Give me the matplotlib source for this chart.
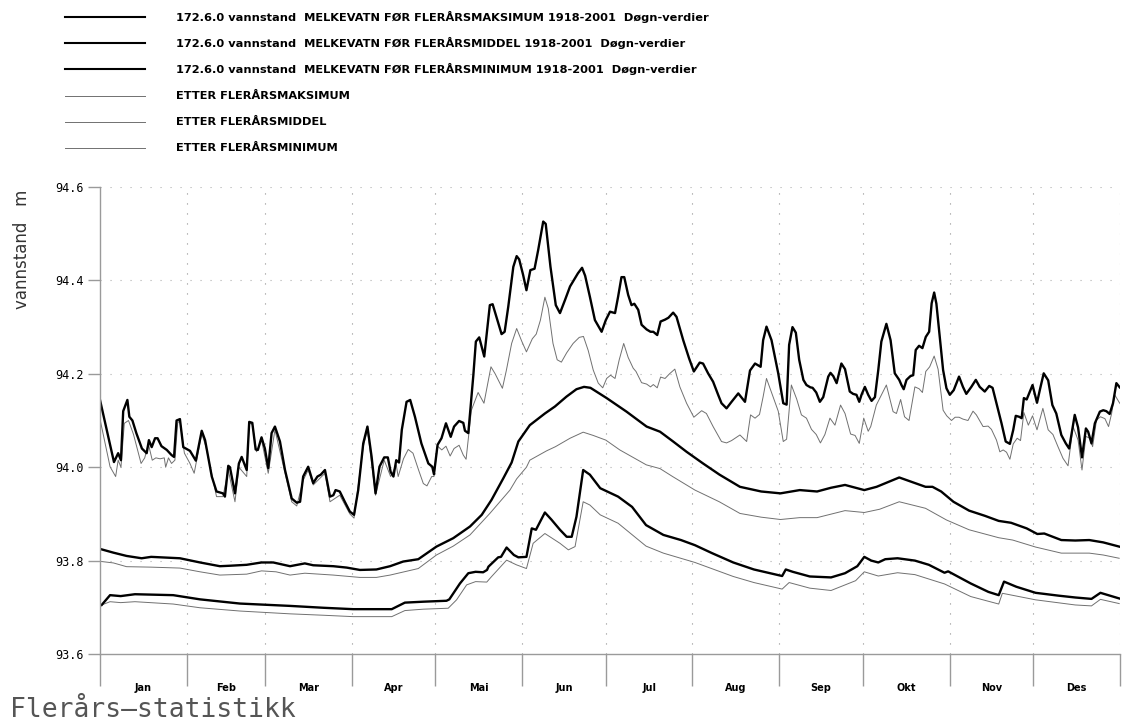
import numpy as np
import matplotlib
matplotlib.use("Agg")
import matplotlib.pyplot as plt
from matplotlib.lines import Line2D
from matplotlib import font_manager

# ---- data (day of year, water level in m) ----
maks_for_dag = [1, 6, 7.5, 8.5, 9.3, 10.8, 11.5, 12.6, 14, 16, 17.7, 18.5, 19.5, 20.7, 21.6, 23, 24.9, 26.6, 27.5,
                28.4, 29.6, 30.8, 33.2, 35.3, 37.4, 38.6, 41, 42.7, 45, 45.7, 46.9, 47.5, 49.3, 50.7, 51.7, 53.5,
                54.4, 55.5, 56.7, 57.5, 58.8, 60, 61.2, 62.4, 63.6, 65.4, 67.2, 69.6, 71.4, 72.6, 73.7, 75.5, 77.3,
                78.8, 80, 81.5, 83.3, 84.5, 85.3, 86.8, 88.6, 90.4, 91.9, 93.4, 95.2, 96.7, 98.2, 99.6, 101, 102.7,
                104, 105, 106, 107, 108, 109, 110.7, 112, 113.7, 116, 118.5, 119.9, 120.5, 121.8, 123.2, 124.8,
                126.5, 127.7, 129.5, 131, 131.6, 132.8, 134.6, 135.5, 136.7, 138.5, 140.5, 141.5, 144.7, 145.8,
                147.1, 148.9, 150.1, 151, 152.4, 153.6, 155, 156.5, 157.8, 159.6, 160.5, 162.2, 164.1, 165.6,
                167.4, 169.2, 170.9, 172, 173.5, 174.6, 176.3, 178.1, 180.5, 182, 183.5, 185.3, 186.4, 187.6,
                188.6, 190, 191.2, 192.2, 193.6, 194.8, 196.6, 198, 199, 200.4, 201.6, 203.2, 204.4, 206.1, 207.3,
                209.7, 211.8, 213.5, 215.6, 216.8, 218.6, 220.4, 222.2, 223.4, 225.2, 227, 229.4, 231.8, 233.6,
                235.4, 237.4, 238.3, 239.5, 241.3, 243.7, 245.5, 246.7, 247.6, 248.8, 250, 251.2, 252.7, 253.8,
                255.2, 256, 257.3, 258.6, 259.8, 261.6, 262.4, 263.4, 264.6, 266.3, 267.6, 269.3, 270.5, 271.7,
                272.7, 273.5, 274.7, 275.9, 277.1, 278.3, 279.5, 280.6, 282.4, 283.9, 285.4, 287, 287.8, 288.6,
                289.6, 291, 292, 292.9, 294.1, 295.3, 296.5, 297.7, 298.6, 299.5, 300.3, 301.5, 302.7, 303.9,
                305.1, 306.5, 308.4, 309.8, 311, 312.8, 314.4, 315.8, 317.6, 319.2, 320.4, 321.8, 323.6, 325.1,
                326.6, 327.8, 328.7, 329.9, 330.8, 331.6, 332.6, 334.7, 336.3, 337.3, 338.7, 340.3, 341.8, 343.2,
                345, 346.6, 347.8, 349.8, 351, 352.4, 353.8, 354.6, 355.8, 357, 358.8, 360, 361.1, 362.3, 363.5,
                364.7, 365.9]
maks_for = [94.144, 94.011, 94.03, 94.015, 94.12, 94.144, 94.108, 94.10, 94.073, 94.04, 94.03, 94.058, 94.043,
            94.062, 94.062, 94.045, 94.037, 94.026, 94.022, 94.10, 94.103, 94.043, 94.035, 94.014, 94.078, 94.058,
            93.98, 93.948, 93.944, 93.937, 94.003, 94.0, 93.944, 94.008, 94.022, 93.994, 94.097, 94.095, 94.038,
            94.037, 94.064, 94.04, 93.998, 94.073, 94.087, 94.055, 93.994, 93.933, 93.924, 93.926, 93.98, 94.001,
            93.966, 93.98, 93.984, 93.994, 93.937, 93.94, 93.951, 93.948, 93.926, 93.905, 93.898, 93.951, 94.051,
            94.087, 94.022, 93.944, 94.001, 94.021, 94.021, 93.99, 93.98, 94.015, 94.01, 94.08, 94.14, 94.144,
            94.108, 94.051, 94.008, 94.001, 93.985, 94.048, 94.062, 94.094, 94.065, 94.087, 94.099, 94.095,
            94.078, 94.073, 94.197, 94.269, 94.278, 94.237, 94.347, 94.349, 94.285, 94.29, 94.344, 94.429,
            94.452, 94.445, 94.412, 94.379, 94.422, 94.425, 94.465, 94.526, 94.521, 94.429, 94.347, 94.33,
            94.358, 94.387, 94.404, 94.415, 94.427, 94.41, 94.365, 94.315, 94.29, 94.315, 94.333, 94.33, 94.365,
            94.407, 94.407, 94.369, 94.347, 94.35, 94.337, 94.305, 94.295, 94.29, 94.29, 94.283, 94.312, 94.316,
            94.32, 94.331, 94.322, 94.272, 94.233, 94.205, 94.224, 94.222, 94.201, 94.183, 94.155, 94.137,
            94.126, 94.14, 94.158, 94.14, 94.207, 94.222, 94.215, 94.272, 94.301, 94.272, 94.201, 94.137,
            94.134, 94.262, 94.30, 94.288, 94.23, 94.187, 94.176, 94.171, 94.17, 94.16, 94.14, 94.15, 94.194,
            94.202, 94.195, 94.18, 94.222, 94.21, 94.162, 94.157, 94.155, 94.14, 94.155, 94.172, 94.155, 94.142,
            94.15, 94.208, 94.269, 94.307, 94.272, 94.201, 94.187, 94.176, 94.167, 94.187, 94.195, 94.197,
            94.251, 94.26, 94.255, 94.279, 94.29, 94.351, 94.374, 94.35, 94.279, 94.208, 94.169, 94.155, 94.165,
            94.194, 94.172, 94.157, 94.172, 94.187, 94.172, 94.162, 94.174, 94.17, 94.137, 94.094, 94.055,
            94.05, 94.08, 94.11, 94.108, 94.105, 94.148, 94.145, 94.176, 94.138, 94.165, 94.201, 94.186, 94.133,
            94.115, 94.069, 94.051, 94.04, 94.112, 94.085, 94.021, 94.083, 94.076, 94.051, 94.094, 94.119,
            94.122, 94.12, 94.114, 94.137, 94.18, 94.171]

maks_etter_dag = [1, 4.6, 6.6, 7.5, 8.5, 9.7, 11.2, 13, 15.7, 17, 18.3, 19.7, 21, 22.5, 24, 24.5, 25.5, 26.6, 27.8,
                  28.8, 29.6, 31.2, 33.2, 34.7, 37.4, 38.9, 42.7, 45, 46.9, 49.3, 50.7, 53.5, 54.4, 55.5, 57, 58.8,
                  61.2, 63.6, 67.2, 69.6, 71.4, 73.7, 75.5, 77.3, 81.5, 83.3, 86.8, 90.4, 91.9, 95.2, 96.7, 99.6,
                  102.7, 105, 107, 107.7, 109.6, 111.3, 113, 115, 116.7, 118, 119.7, 120.5, 121.8, 123.3, 124.8,
                  126.3, 127.7, 129.5, 131, 132, 133.9, 136.3, 138.4, 140.9, 142.4, 145, 146.4, 148.3, 150.1, 151.9,
                  153.6, 155.7, 157.1, 158.6, 160.2, 161.4, 163.1, 164.6, 166.1, 168, 170.3, 172.5, 174, 175.7,
                  177.5, 179.3, 180.9, 182.3, 183.7, 185.3, 186.8, 188.4, 190, 191.8, 192.8, 194.8, 196.6, 198, 199,
                  200.4, 201.6, 203.2, 204.8, 206.7, 208.5, 210.9, 213.5, 216.3, 218, 220.4, 223.4, 225.2, 227, 230,
                  232.4, 233.8, 235.4, 237, 238.3, 239.5, 241.3, 243.7, 245.5, 246.7, 248.4, 250.3, 252, 253.8,
                  255.6, 257.3, 258.8, 260.4, 262.2, 264, 266, 267.6, 269.6, 271.2, 272.7, 274.3, 275.9, 276.8,
                  278.8, 282.4, 284.8, 286, 287.5, 288.9, 290.5, 292.6, 294.1, 295.3, 296.5, 297.9, 299.5, 300.9,
                  302.7, 304, 305.7, 307, 308.4, 309.8, 311.6, 313.4, 314.6, 317, 318.8, 320, 321.8, 323, 324.2,
                  325.4, 326.6, 327.8, 329.2, 330.4, 331.6, 333.2, 334.7, 336.3, 338.4, 340.3, 342, 343.8, 345.6,
                  347.4, 349.2, 351, 352.4, 353.8, 355.2, 356.2, 357.6, 359, 360.6, 361.9, 363, 364.1, 365.9]
maks_etter = [94.103, 94.001, 93.98, 94.015, 94.0, 94.094, 94.1, 94.07, 94.008, 94.02, 94.05, 94.015, 94.02, 94.018,
              94.02, 94.0, 94.02, 94.008, 94.015, 94.095, 94.1, 94.03, 94.008, 93.987, 94.072, 94.044, 93.937,
              93.937, 93.994, 93.926, 94.0, 93.98, 94.094, 94.092, 94.033, 94.058, 93.987, 94.08, 93.987, 93.926,
              93.917, 93.972, 93.994, 93.962, 93.987, 93.926, 93.94, 93.9, 93.891, 94.044, 94.08, 93.94, 94.015,
              93.98, 94.005, 93.98, 94.018, 94.038, 94.03, 93.994, 93.965, 93.96, 93.98, 93.98, 94.045, 94.037,
              94.045, 94.024, 94.04, 94.047, 94.026, 94.017, 94.122, 94.16, 94.137, 94.215, 94.2, 94.169, 94.207,
              94.265, 94.297, 94.27, 94.247, 94.275, 94.285, 94.315, 94.364, 94.34, 94.265, 94.23, 94.225, 94.245,
              94.265, 94.278, 94.28, 94.25, 94.208, 94.18, 94.17, 94.19, 94.197, 94.19, 94.23, 94.265, 94.235,
              94.212, 94.205, 94.181, 94.178, 94.172, 94.177, 94.17, 94.193, 94.19, 94.2, 94.21, 94.172, 94.137,
              94.107, 94.121, 94.115, 94.087, 94.055, 94.052, 94.057, 94.069, 94.055, 94.112, 94.105, 94.113,
              94.151, 94.19, 94.16, 94.12, 94.055, 94.06, 94.176, 94.146, 94.112, 94.105, 94.081, 94.07, 94.052,
              94.07, 94.105, 94.09, 94.133, 94.115, 94.071, 94.068, 94.051, 94.105, 94.077, 94.087, 94.133,
              94.176, 94.119, 94.115, 94.145, 94.108, 94.1, 94.172, 94.168, 94.16, 94.205, 94.215, 94.238, 94.21,
              94.122, 94.11, 94.1, 94.107, 94.107, 94.103, 94.1, 94.12, 94.112, 94.087, 94.088, 94.081, 94.058,
              94.033, 94.037, 94.032, 94.017, 94.05, 94.062, 94.057, 94.117, 94.09, 94.11, 94.08, 94.126, 94.08,
              94.07, 94.044, 94.019, 94.003, 94.087, 94.058, 93.994, 94.066, 94.062, 94.044, 94.101, 94.108,
              94.104, 94.087, 94.115, 94.155, 94.137]

middel_for_dag = [1.6, 5.8, 10.5, 15.9, 19.3, 29.6, 36.8, 43.9, 47.5, 53.5, 58.8, 63, 69, 74.3, 77.3, 84.5, 89.3, 94,
                  99.9, 104.8, 109.5, 114.9, 121.4, 127.4, 133.4, 137.6, 141.1, 145.3, 148.3, 150.7, 154.8, 160.2,
                  163.8, 167.9, 171.5, 174.2, 176.5, 182.3, 189.4, 196.6, 201.4, 206.1, 210.9, 216.8, 222.7, 230,
                  237.6, 244.5, 251.4, 257.6, 262.6, 267.6, 274.5, 278.9, 287, 296.4, 298.9, 302, 306.4, 312, 317.6,
                  322.6, 327, 332.6, 336.4, 338.9, 345, 350, 355, 360, 365.7]
middel_for = [93.824, 93.817, 93.81, 93.805, 93.808, 93.805, 93.796, 93.788, 93.789, 93.791, 93.796, 93.796, 93.788,
              93.794, 93.79, 93.788, 93.785, 93.78, 93.781, 93.788, 93.798, 93.803, 93.83, 93.848, 93.873, 93.898,
              93.93, 93.976, 94.01, 94.055, 94.09, 94.115, 94.13, 94.151, 94.167, 94.172, 94.17, 94.148, 94.119,
              94.087, 94.076, 94.055, 94.033, 94.008, 93.984, 93.958, 93.948, 93.944, 93.951, 93.948, 93.956,
              93.962, 93.951, 93.958, 93.978, 93.958, 93.958, 93.948, 93.926, 93.907, 93.896, 93.885, 93.881,
              93.869, 93.857, 93.858, 93.844, 93.843, 93.844, 93.839, 93.83]

middel_etter_dag = [1.6, 5.8, 10.5, 19.3, 29.6, 36.8, 43.9, 53.5, 58.8, 64, 69, 74.3, 84.5, 94, 99.9, 104.8, 114.9,
                    121.4, 127.4, 133.4, 140.5, 147.7, 150.1, 153.6, 154.8, 160.8, 164, 169.2, 173.9, 177.5, 182,
                    187, 196.5, 201.4, 205.9, 213.9, 222.6, 230, 237.6, 244.5, 251.4, 257.6, 267.6, 274.5, 280, 287,
                    296.4, 303.9, 312, 322.6, 327.6, 335.8, 345, 355, 360, 365.7]
middel_etter = [93.798, 93.795, 93.787, 93.786, 93.784, 93.776, 93.769, 93.771, 93.778, 93.776, 93.769, 93.773,
                93.769, 93.764, 93.764, 93.769, 93.783, 93.812, 93.831, 93.855, 93.901, 93.951, 93.975, 94.0,
                94.015, 94.035, 94.044, 94.062, 94.075, 94.068, 94.058, 94.037, 94.005, 93.997, 93.98, 93.951,
                93.926, 93.901, 93.893, 93.888, 93.892, 93.892, 93.907, 93.903, 93.91, 93.926, 93.912, 93.887,
                93.866, 93.849, 93.844, 93.829, 93.816, 93.816, 93.812, 93.805]

min_for_dag = [1.6, 4.6, 8.4, 13.5, 27.2, 36.8, 51.1, 69, 80.9, 91.6, 105.4, 110.1, 116.7, 125, 126, 129.8, 132.8,
               135.4, 138.1, 139.5, 140, 143.5, 144.5, 146.5, 149.1, 150.7, 153.6, 155.5, 157, 160.2, 162.5, 165.6,
               168, 169.8, 171.5, 173.9, 176.3, 180, 186.4, 191.4, 196.4, 202.6, 208.9, 213.9, 220, 227.6, 235,
               245.1, 246.4, 248.9, 255, 262.6, 267.6, 272, 274.5, 277, 279.5, 282, 286.4, 292.6, 297.6, 303.2,
               304.5, 312.6, 318.9, 322.6, 324.5, 328.9, 335.8, 343.9, 350, 355.8, 359, 365.7]
min_for = [93.705, 93.726, 93.724, 93.728, 93.726, 93.717, 93.708, 93.703, 93.699, 93.696, 93.696, 93.71, 93.712,
           93.714, 93.717, 93.751, 93.773, 93.776, 93.775, 93.78, 93.787, 93.807, 93.808, 93.828, 93.812, 93.807,
           93.808, 93.869, 93.866, 93.903, 93.888, 93.866, 93.851, 93.851, 93.894, 93.994, 93.984, 93.955, 93.937,
           93.915, 93.876, 93.855, 93.844, 93.833, 93.816, 93.796, 93.781, 93.767, 93.781, 93.776, 93.766, 93.764,
           93.773, 93.788, 93.808, 93.8, 93.796, 93.803, 93.805, 93.8, 93.791, 93.774, 93.777, 93.751, 93.733,
           93.726, 93.755, 93.744, 93.731, 93.725, 93.721, 93.718, 93.731, 93.719]

min_etter_dag = [1.6, 4.6, 8.4, 13.5, 27.2, 36.8, 51.1, 69, 80.9, 91.6, 105.4, 110.1, 116.7, 125.6, 128.6, 132.2,
                 135.4, 139.4, 141, 146.5, 150, 153.6, 156, 160.2, 165.6, 168.6, 171, 173.9, 176.3, 180, 186.4,
                 196.4, 202.6, 213.9, 227.6, 235, 245.1, 247.6, 255, 262.6, 271.4, 274.5, 279.5, 286.4, 292.6,
                 303.2, 312.6, 322.6, 323.9, 335.8, 350, 355.8, 359, 365.7]
min_etter = [93.705, 93.712, 93.71, 93.712, 93.707, 93.699, 93.692, 93.686, 93.683, 93.68, 93.68, 93.693, 93.696,
             93.698, 93.716, 93.748, 93.755, 93.754, 93.765, 93.801, 93.791, 93.783, 93.837, 93.858, 93.837, 93.823,
             93.83, 93.926, 93.919, 93.898, 93.88, 93.831, 93.816, 93.796, 93.766, 93.753, 93.739, 93.753, 93.741,
             93.736, 93.757, 93.776, 93.767, 93.774, 93.77, 93.75, 93.723, 93.707, 93.73, 93.716, 93.705, 93.703,
             93.717, 93.708]

maaneder = ["Jan", "Feb", "Mar", "Apr", "Mai", "Jun", "Jul", "Aug", "Sep", "Okt", "Nov", "Des"]
maaned_start = [1, 32, 60, 91, 121, 152, 182, 213, 244, 274, 305, 335, 366]
y_ticks = [93.6, 93.8, 94.0, 94.2, 94.4, 94.6]

legend_tekster = [
    "172.6.0 vannstand  MELKEVATN FØR FLERÅRSMAKSIMUM 1918-2001  Døgn-verdier",
    "172.6.0 vannstand  MELKEVATN FØR FLERÅRSMIDDEL 1918-2001  Døgn-verdier",
    "172.6.0 vannstand  MELKEVATN FØR FLERÅRSMINIMUM 1918-2001  Døgn-verdier",
    "ETTER FLERÅRSMAKSIMUM",
    "ETTER FLERÅRSMIDDEL",
    "ETTER FLERÅRSMINIMUM",
]

W, H = 1127, 726
installed = {f.name for f in font_manager.fontManager.ttflist}
narrow = [n for n in ["Liberation Sans Narrow", "DejaVu Sans"] if n in installed]
mono = ["DejaVu Sans Mono"]
# the original uses a tall narrow bold face; squeeze if no narrow family is around
legend_size = 9.5 if narrow[0] == "Liberation Sans Narrow" else 8.2

THICK = dict(color="black", lw=1.7)
THIN = dict(color="#707070", lw=0.7)

fig = plt.figure(figsize=(W / 100, H / 100), dpi=100)
ax = fig.add_axes([100 / W, (H - 654) / H, (1120 - 100) / W, (654 - 187) / H])

# thin "after" lines underneath, thick "before" on top
ax.plot(maks_etter_dag, maks_etter, **THIN)
ax.plot(middel_etter_dag, middel_etter, **THIN)
ax.plot(min_etter_dag, min_etter, **THIN)
ax.plot(maks_for_dag, maks_for, **THICK)
ax.plot(middel_for_dag, middel_for, **THICK)
ax.plot(min_for_dag, min_for, **THICK)

ax.set_xlim(1, 366)
ax.set_ylim(93.6, 94.6)

# y axis
ax.set_yticks(y_ticks)
ax.set_yticklabels(["%.1f" % v for v in y_ticks], family=mono, fontsize=8.5)
ax.tick_params(axis="y", direction="out", length=9, width=1, color="#9a9a9a", pad=3)

# x axis: long ticks at month boundaries, labels in month centres
ax.set_xticks(maaned_start, minor=True)
ax.set_xticks([(a + b) / 2 for a, b in zip(maaned_start[:-1], maaned_start[1:])])
ax.set_xticklabels(maaneder, family=narrow, fontweight="bold", fontsize=7)
ax.tick_params(axis="x", which="major", length=0, pad=21)
ax.tick_params(axis="x", which="minor", direction="out", length=23, width=1, color="#9a9a9a")

for s in ["top", "right"]:
    ax.spines[s].set_visible(False)
for s in ["left", "bottom"]:
    ax.spines[s].set_color("#9a9a9a")
    ax.spines[s].set_linewidth(1)

# dotted grid
for v in y_ticks[1:]:
    ax.axhline(v, color="#b0b0b0", lw=0.8, ls=(0, (1, 8)), zorder=0)
for d in maaned_start[1:]:
    ax.axvline(d, color="#909090", lw=0.8, ls=(0, (1, 8)), zorder=0)

# y label
fig.text(22 / W, 1 - 190 / H, "vannstand   m", rotation=90, va="top", ha="center",
         fontsize=12, family=["DejaVu Sans"], color="#333333")

# legend drawn by hand
rader = [17, 43, 69, 96, 122, 148]
for i, (tekst, y) in enumerate(zip(legend_tekster, rader)):
    fig.add_artist(Line2D([65 / W, 145 / W], [1 - y / H, 1 - y / H],
                          color="black" if i < 3 else "#707070", lw=1.5 if i < 3 else 0.7))
    fig.text(176 / W, 1 - y / H, tekst, va="center", ha="left", family=narrow,
             fontweight="bold", fontsize=legend_size)

fig.text(10 / W, 1 - 710 / H, "Flerårs—statistikk", va="center", ha="left",
         family=mono, fontsize=19, color="#555555")

fig.savefig("out.png", dpi=100)
